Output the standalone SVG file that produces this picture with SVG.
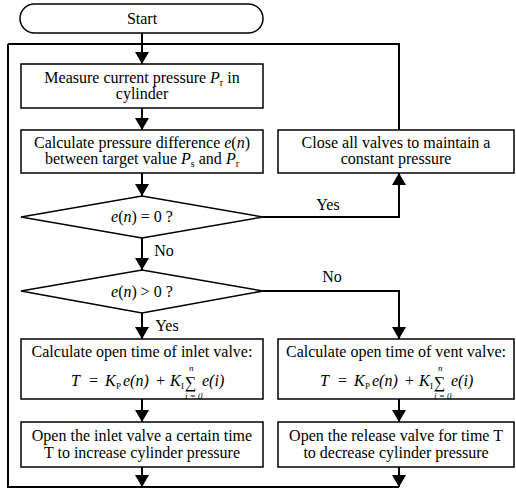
<svg xmlns="http://www.w3.org/2000/svg" width="516" height="499" viewBox="0 0 516 499" font-family="'Liberation Serif', 'DejaVu Serif', serif">
<style>
.b{fill:#fff;stroke:#000;stroke-width:1.5}
.c{fill:none;stroke:#000;stroke-width:2}
text{font-family:'Liberation Serif','DejaVu Serif',serif}
.t{font-size:16px;fill:#000;text-anchor:middle}
.f{font-size:16px;fill:#000;font-style:italic}
.s{font-size:9px;fill:#000}
.i{font-style:italic}
</style>
<defs>
<marker id="ah" viewBox="0 0 12 14" refX="12" refY="7" markerWidth="12" markerHeight="14" markerUnits="userSpaceOnUse" orient="auto">
<path d="M0,0 L12,7 L0,14 Z" fill="#000"/>
</marker>
</defs>
<g id="connectors">
<path class="c" d="M142,33 V64" marker-end="url(#ah)"/>
<path class="c" d="M8,44 H399 V130"/>
<path class="c" d="M8,44 V487 H399"/>
<path class="c" d="M142,108 V130" marker-end="url(#ah)"/>
<path class="c" d="M142,173 V196" marker-end="url(#ah)"/>
<path class="c" d="M263,217 H399 V173" marker-end="url(#ah)"/>
<path class="c" d="M142,238 V270" marker-end="url(#ah)"/>
<path class="c" d="M142,313 V339" marker-end="url(#ah)"/>
<path class="c" d="M263,291 H399 V339" marker-end="url(#ah)"/>
<path class="c" d="M142,399 V422" marker-end="url(#ah)"/>
<path class="c" d="M399,399 V422" marker-end="url(#ah)"/>
<path class="c" d="M142,467 V487" marker-end="url(#ah)"/>
<path class="c" d="M399,467 V487" marker-end="url(#ah)"/>
<text class="t" x="328" y="210">Yes</text>
<text class="t" x="164" y="256">No</text>
<text class="t" x="332" y="282">No</text>
<text class="t" x="167" y="331">Yes</text>
</g>
<g id="start">
<rect class="b" x="20" y="4" width="243" height="29" rx="14.5"/>
<text class="t" x="142" y="24">Start</text>
</g>
<g id="measure">
<rect class="b" x="21" y="64" width="242" height="44"/>
<text class="t" x="142" y="83">Measure current pressure <tspan class="i">P</tspan><tspan font-size="10" dy="3">r</tspan><tspan dy="-3"> in</tspan></text>
<text class="t" x="142" y="99">cylinder</text>
</g>
<g id="calcdiff">
<rect class="b" x="21" y="130" width="242" height="43"/>
<text class="t" x="142" y="148">Calculate  pressure difference <tspan class="i">e</tspan>(<tspan class="i">n</tspan>)</text>
<text class="t" x="142" y="164">between target value <tspan class="i">P</tspan><tspan font-size="10" dy="3">s</tspan><tspan dy="-3"> and </tspan><tspan class="i">P</tspan><tspan font-size="10" dy="3">r</tspan></text>
</g>
<g id="close">
<rect class="b" x="278" y="130" width="236" height="43"/>
<text class="t" x="396" y="148">Close all valves to maintain a</text>
<text class="t" x="396" y="164">constant pressure</text>
</g>
<g id="dec1">
<path class="b" d="M21,217 L142,196 L263,217 L142,238 Z"/>
<text class="t" x="142" y="222"><tspan class="i">e</tspan>(<tspan class="i">n</tspan>) = 0 ?</text>
</g>
<g id="dec2">
<path class="b" d="M21,291 L142,270 L263,291 L142,313 Z"/>
<text class="t" x="142" y="297"><tspan class="i">e</tspan>(<tspan class="i">n</tspan>) &gt; 0 ?</text>
</g>
<g id="inlettime">
<rect class="b" x="21" y="339" width="242" height="60"/>
<text class="t" x="142" y="357">Calculate open time of inlet valve:</text>
<text class="f" x="71" y="386">T</text>
<text class="f" x="88" y="386" font-style="normal">=</text>
<text class="f" x="105" y="386">K</text>
<text class="s" x="116" y="389">P</text>
<text class="f" x="123" y="386">e(n)</text>
<text class="f" x="155" y="386" font-style="normal">+</text>
<text class="f" x="170" y="386">K</text>
<text class="s" x="181" y="389">I</text>
<text class="f" x="185" y="388" font-style="normal" font-size="17">∑</text>
<text class="s" x="189" y="371" font-style="italic" font-size="8">n</text>
<text class="s" x="185" y="399" font-style="italic" font-size="7">i = 0</text>
<text class="f" x="202" y="386">e(i)</text>
</g>
<g id="venttime">
<rect class="b" x="278" y="339" width="236" height="60"/>
<text class="t" x="396" y="357">Calculate open time of vent valve:</text>
<text class="f" x="320" y="386">T</text>
<text class="f" x="337" y="386" font-style="normal">=</text>
<text class="f" x="354" y="386">K</text>
<text class="s" x="365" y="389">P</text>
<text class="f" x="372" y="386">e(n)</text>
<text class="f" x="404" y="386" font-style="normal">+</text>
<text class="f" x="419" y="386">K</text>
<text class="s" x="430" y="389">I</text>
<text class="f" x="434" y="388" font-style="normal" font-size="17">∑</text>
<text class="s" x="438" y="371" font-style="italic" font-size="8">n</text>
<text class="s" x="434" y="399" font-style="italic" font-size="7">i = 0</text>
<text class="f" x="451" y="386">e(i)</text>
</g>
<g id="openinlet">
<rect class="b" x="21" y="422" width="242" height="45"/>
<text class="t" x="142" y="441">Open the inlet valve a certain time</text>
<text class="t" x="142" y="458">T to increase cylinder pressure</text>
</g>
<g id="openrelease">
<rect class="b" x="278" y="422" width="236" height="45"/>
<text class="t" x="396" y="441">Open the release valve for time T</text>
<text class="t" x="396" y="458">to decrease cylinder pressure</text>
</g>
</svg>
